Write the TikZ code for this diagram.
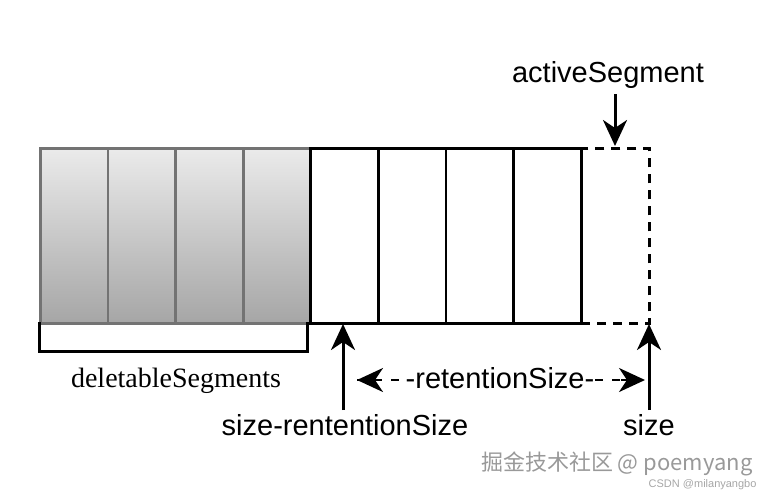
\documentclass[tikz,border=0pt]{standalone}
\usepackage{fontspec}
\setsansfont{Liberation Sans}
\setmainfont{Liberation Serif}
\newfontfamily\cjk{Noto Sans CJK SC}
\usetikzlibrary{arrows.meta}
\begin{document}
\begin{tikzpicture}[x=1pt,y=-1pt,
  seggray/.style={draw=black!55,line width=2.8pt,top color=black!8,bottom color=black!35},
  segwhite/.style={draw=black,line width=2.8pt,fill=white},
  lbl/.style={font=\sffamily\fontsize{29}{32}\selectfont,inner sep=1pt},
  arr/.style={line width=3pt,-{Stealth[length=26pt,width=24pt,inset=8pt]}}]
\useasboundingbox (0,0) rectangle (770,495);
\foreach \i in {0,...,3}{
  \node[seggray,minimum width=67.6pt,minimum height=175pt,anchor=north west,inner sep=0] (g\i) at ({39+67.6*\i},147) {};}
\foreach \i in {4,...,7}{
  \node[segwhite,minimum width=67.6pt,minimum height=175pt,anchor=north west,inner sep=0] (w\i) at ({39+67.6*\i},147) {};}
\node[draw,line width=2.8pt,dash pattern=on 9pt off 7pt,minimum width=68pt,minimum height=175pt,anchor=north west,inner sep=0] (act) at (580,147) {};
\draw[line width=3pt] (39,322) -- (39,351) -- (307,351) -- (307,322);
\node[font=\fontsize{28}{32}\selectfont] (del) at (176,381) {deletableSegments};
\node[lbl] (at) at (608,75) {activeSegment};
\coordinate (a1) at (615,94);
\draw[arr] (a1) -- (615,146);
\node[lbl] (srs) at (345,425) {size-rententionSize};
\coordinate (b1) at (343,410);
\draw[arr] (b1) -- (343,324);
\node[lbl] (sz) at (649,425) {size};
\coordinate (c1) at (649,410);
\draw[arr] (c1) -- (649,324);
\coordinate (d1) at (357,380);
\coordinate (d2) at (645,380);
\draw[line width=2.8pt,dash pattern=on 8pt off 9pt] (d1) -- (d2);
\node[lbl,fill=white,inner sep=0pt] (rs) at (500,378) {-retentionSize-};
\draw[line width=2.8pt,-{Stealth[length=26pt,width=24pt,inset=8pt]}] ([xshift=24pt]d1) -- (d1);
\draw[line width=2.8pt,-{Stealth[length=26pt,width=24pt,inset=8pt]}] ([xshift=-24pt]d2) -- (d2);
\node[text=black!40,font=\cjk\fontsize{22}{24}\selectfont,anchor=east] (wm) at (756,464) {掘金技术社区 @ poemyang};
\node[text=black!35,font=\sffamily\fontsize{11}{12}\selectfont,anchor=east] (wm2) at (760,485) {CSDN @milanyangbo};
\end{tikzpicture}
\end{document}
